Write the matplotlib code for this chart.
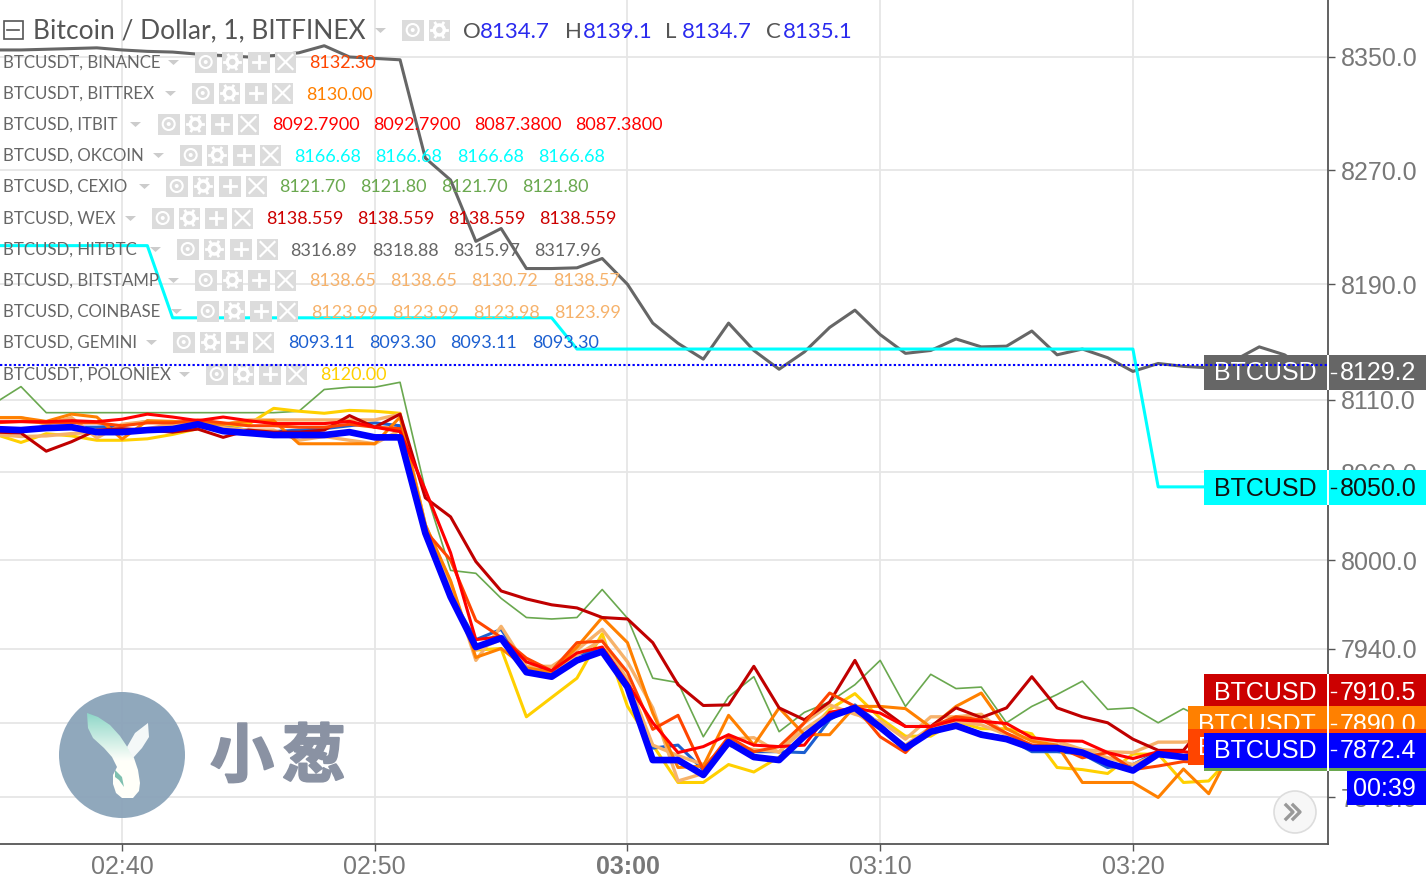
#!/usr/bin/env python3
# -*- coding: utf-8 -*-
import numpy as np
import matplotlib
matplotlib.use('Agg')
import matplotlib.pyplot as plt
import matplotlib.patheffects as pe
from matplotlib.patches import Rectangle, Circle, Polygon
from matplotlib.ticker import NullFormatter, NullLocator

#%% data, one value per minute from 02:35 to 03:27
minutes = np.arange(-5, 48)

hitbtc = [8355,8355,8355.5,8356,8356.5,8355,8354,8353.5,8352,8351,8350,8351,8353,8358,8350,8349,8348,
          8278.5,8263,8220,8229,8201,8201,8201.5,8208,8190,8163,8149,8138,8163,8144,8131,8143,8160,8172,
          8155,8142,8144,8152,8146.5,8147,8157.5,8141,8145,8139,8129.5,8135,8133,8132,8137,8146.5,8141,8129.2]
okcoin = [8217,8217,8217,8217,8217,8217,8217,
          8166.68,8166.68,8166.68,8166.68,8166.68,8166.68,8166.68,8166.68,8166.68,8166.68,8166.68,8166.68,8166.68,8166.68,8166.68,8166.68,
          8145,8145,8145,8145,8145,8145,8145,8145,8145,8145,8145,8145,8145,8145,8145,8145,8145,8145,8145,8145,8145,8145,8145,
          8050,8050,8050,8050,8050,8050,8050]
cexio = [8108,8119,8101,8101,8101,8101,8101,8101,8101,8101,8101,8101,8102,8117,8118.6,8118.6,8122,
         8048,7993,7991,7974,7961,7960,7961,7980,7960.5,7920,7917,7880.6,7907.5,7921,7884,7897,7904,7915.6,
         7932,7901,7922.6,7913,7914,7890,7901,7909,7918,7899,7900,7890,7899.5,7891,7901,7909,7901,7870]
poloniex = [8086,8080.5,8086.5,8085,8082,8082,8083,8086,8090,8091,8093,8104,8102,8100.6,8102.6,8102,8100.6,
            8024,7980,7939,7940,7894,7907,7920,7950,7901,7875,7850,7850,7862,7857,7867,7881,7899,7909.6,
            7893,7881,7881,7891,7886,7886,7882.6,7860,7858.6,7856,7869,7869,7850,7851,7869,7872,7872,7872]
gemini = [8088,8090,8090,8091,8091,8092,8095,8094,8094,8091,8089,8088,8089,8090,8092,8094,8092,
          8020,7976,7946,7953,7927,7925,7936,7939,7919,7873,7875,7858.6,7875,7870.6,7870.6,7870,7892,7902,
          7889,7872,7887,7889,7883,7880,7870.6,7870.6,7869,7860,7862,7870.6,7868,7868,7875,7882,7877,7873]
bitstamp = [8097.6,8097.6,8093,8097.6,8083.6,8093,8095,8093,8094,8093,8096,8096,8096,8096,8096,8096,8100,
            8024,7985,7932,7955,7928,7928,7939,7953,7931,7900,7851,7856,7879,7880,7870,7890,7902,7895.7,
            7891,7879,7894,7894,7895.7,7882,7879,7877.6,7872,7870.6,7870,7877,7877,7879,7880,7880,7880,7880]
coinbase = [8086,8084.6,8085,8086.6,8087.6,8087.6,8090,8093,8091.4,8090.7,8089,8089,8082,8084.6,8082,8079.6,8089,
            8021,7980,7939,7946,7927,7924,7935.6,7946,7919,7875,7868,7862,7875,7872,7870.6,7885.6,7897,7897,
            7885.6,7875,7887,7891,7888.6,7882,7875,7875,7872,7866.5,7862,7869,7868,7872,7873,7875,7875,7875]
bittrex = [8097.6,8097.6,8095,8100,8098,8082.8,8095.5,8095,8094,8093,8095,8095.5,8079.6,8079.6,8079.6,8079.6,8098,
           8024,7986,7934,7940,7927,7924,7941,7961,7944,7896.5,7860,7861,7895,7875,7900,7882,7882,7901,
           7901,7899.5,7887,7901,7910,7886,7877.6,7875,7850,7850,7850,7840,7859,7842.5,7875,7889.5,7889.5,7890]
wex = [8087.6,8087,8074.5,8081,8089,8090,8089,8087.6,8089.7,8084,8089,8087.6,8087.6,8089,8099,8091,8100,
       8042.5,8029.5,7999,7979,7973.6,7969.6,7967.5,7961,7960,7944,7915.6,7901.6,7902,7928,7900,7892,7904,7932,
       7900,7887.5,7887.5,7900,7893.5,7900,7921,7900,7894,7890,7879,7871.5,7871.5,7892,7905,7909,7910.5,7910.5]
binance = [8094,8095,8094,8094,8094,8092,8094,8094,8096,8094,8092,8092,8091,8091,8093,8091,8090,
           8020,8000,7959,7947.6,7933.5,7925,7944,7945,7924,7885.6,7895,7858.6,7880.6,7870.6,7874,7890,7910,7901,
           7880.6,7870,7887.5,7894,7892,7883,7875,7874,7866.5,7870,7858.6,7861,7864,7863,7872,7873,7874,7874]
itbit = [8094.8,8094.8,8094.8,8095.5,8094.8,8096.5,8100,8098,8095.5,8098,8095.5,8093.5,8093.5,8093.5,8095,8091,8088,
         8048,8005,7946,7948,7931,7925,7937,7941,7916.6,7890,7870,7874,7882,7875,7874,7875,7897,7900,
         7896.5,7887.5,7887.5,7892,7891,7889.5,7880,7878,7877.6,7870,7866,7870.6,7870.6,7869,7872,7873,7873,7873]
bitfinex = [8089.7,8089,8090.4,8091,8087.6,8087.6,8089,8089.7,8093,8088.3,8087,8085.6,8085.6,8085.6,8087.6,8084,8084,
            8018.4,7975,7941,7947,7924,7921,7932,7938,7914,7865,7865,7855,7877,7867,7865,7881,7894,7900,
            7887,7873,7884,7888,7882,7879,7873,7873,7870,7863,7858,7869,7867,7867,7875,7883,7877,7872.4]
last_close = 8134

y_ticks = [8350, 8270, 8190, 8110, 8060, 8000, 7940, 7890, 7840]
x_ticks = [0, 10, 20, 30, 40]
x_labels = ['02:40', '02:50', '03:00', '03:10', '03:20']

# name, caret x, icon x, value x, value texts, colour
legend_rows = [
    ('BTCUSDT, BINANCE', 173, 195, [309], ['8132.30'], '#ff4500'),
    ('BTCUSDT, BITTREX', 170, 192, [306], ['8130.00'], '#ff8000'),
    ('BTCUSD, ITBIT', 135, 158, [272, 373, 474, 575], ['8092.7900', '8092.7900', '8087.3800', '8087.3800'], '#ff0000'),
    ('BTCUSD, OKCOIN', 158, 180, [294, 375, 457, 538], ['8166.68', '8166.68', '8166.68', '8166.68'], '#00ffff'),
    ('BTCUSD, CEXIO', 144, 166, [279, 360, 441, 522], ['8121.70', '8121.80', '8121.70', '8121.80'], '#6aa84f'),
    ('BTCUSD, WEX', 130, 152, [266, 357, 448, 539], ['8138.559', '8138.559', '8138.559', '8138.559'], '#cc0000'),
    ('BTCUSD, HITBTC', 155, 177, [290, 372, 453, 534], ['8316.89', '8318.88', '8315.97', '8317.96'], '#666666'),
    ('BTCUSD, BITSTAMP', 173, 195, [309, 390, 471, 553], ['8138.65', '8138.65', '8130.72', '8138.57'], '#f6b26b'),
    ('BTCUSD, COINBASE', 176, 197, [311, 392, 473, 554], ['8123.99', '8123.99', '8123.98', '8123.99'], '#f6b26b'),
    ('BTCUSD, GEMINI', 151, 173, [288, 369, 450, 532], ['8093.11', '8093.30', '8093.11', '8093.30'], '#1c5fd0'),
    ('BTCUSDT, POLONIEX', 184, 206, [320], ['8120.00'], '#ffd000'),
]
legend_y = [62, 93, 124, 155, 186, 218, 249, 280, 311, 342, 374]

#%% price pane
W, H = 1426, 881
plt.rcParams['font.family'] = ['Liberation Sans', 'DejaVu Sans']
fig = plt.figure(figsize=(W / 100, H / 100), dpi=100)
ax = fig.add_axes([0, (H - 844) / H, 1328 / W, 844 / H])

ax.set_yscale('log')
ax.set_xlim(-4.83, 47.72)
ax.set_ylim(7809, 8390.6)
ax.grid(True, color='#e6e6e6', lw=1.3)
ax.set_axisbelow(True)

ax.plot(minutes, hitbtc, color='#666666', lw=2.2)
ax.plot(minutes, okcoin, color='#00ffff', lw=2.2)
ax.plot(minutes, cexio, color='#6aa84f', lw=1.2)
ax.plot(minutes, poloniex, color='#ffd000', lw=2.2)
ax.plot(minutes, gemini, color='#1c5fd0', lw=2.2)
ax.plot(minutes, bitstamp, color='#f6b26b', lw=2.4)
ax.plot(minutes, coinbase, color='#f6b26b', lw=2.4)
ax.plot(minutes, bittrex, color='#ff8000', lw=2.2)
ax.plot(minutes, wex, color='#c00000', lw=2.2)
ax.plot(minutes, binance, color='#ff4500', lw=2.2)
ax.plot(minutes, itbit, color='#ff0000', lw=2.2)
ax.plot(minutes, bitfinex, color='#0000ff', lw=4.8)

ax.yaxis.tick_right()
ax.yaxis.set_minor_locator(NullLocator())
ax.yaxis.set_minor_formatter(NullFormatter())
ax.set_yticks(y_ticks)
ax.set_yticklabels(['%.1f' % v for v in y_ticks])
ax.set_xticks(x_ticks)
ax.set_xticklabels(x_labels)
ax.get_xticklabels()[2].set_fontweight('bold')
ax.tick_params(axis='y', labelsize=18, labelcolor='#787878', color='#555555', length=5, width=1, pad=4)
ax.tick_params(axis='x', labelsize=18, labelcolor='#787878', color='#555555', length=5, width=1, pad=3)
ax.spines['top'].set_visible(False)
ax.spines['left'].set_visible(False)
ax.spines['right'].set_color('#555555')
ax.spines['bottom'].set_color('#555555')
ax.spines['right'].set_linewidth(1.3)
ax.spines['bottom'].set_linewidth(1.3)

#%% overlay in pixel coordinates for the legend, price tags and logo
ov = fig.add_axes([0, 0, 1, 1], zorder=5)
ov.patch.set_alpha(0)
ov.axis('off')

LEG_FONT = ['Lato', 'DejaVu Sans']


def icons(x0, yc, kinds=('eye', 'gear', 'plus', 'x')):
    for i, kind in enumerate(kinds):
        x = x0 + i * 26.6
        ov.add_patch(Rectangle((x, yc - 10.5), 21.5, 21.5, color='#dcdcdc', lw=0))
        cx, cy = x + 10.7, yc
        if kind == 'eye':
            ov.add_patch(Circle((cx, cy), 6, fc='none', ec='white', lw=1.5))
            ov.add_patch(Circle((cx, cy), 2, color='white', lw=0))
        elif kind == 'gear':
            ov.add_patch(Circle((cx, cy), 5, fc='none', ec='white', lw=2.5))
            for a in np.arange(0, 360, 60):
                dx, dy = np.cos(np.radians(a)), np.sin(np.radians(a))
                ov.plot([cx + 5 * dx, cx + 8 * dx], [cy + 5 * dy, cy + 8 * dy], color='white', lw=2)
        elif kind == 'plus':
            ov.plot([cx - 6, cx + 6], [cy, cy], color='white', lw=2)
            ov.plot([cx, cx], [cy - 6, cy + 6], color='white', lw=2)
        else:
            ov.plot([cx - 7, cx + 7], [cy - 7, cy + 7], color='white', lw=1.6)
            ov.plot([cx - 7, cx + 7], [cy + 7, cy - 7], color='white', lw=1.6)


def caret(x, yc):
    ov.add_patch(Polygon([(x - 5, yc - 2), (x + 6, yc - 2), (x + 0.5, yc + 3)], color='#cccccc', lw=0))


# title row
ov.add_patch(Rectangle((3.5, 20.5), 19, 18, fc='white', ec='#555555', lw=1.2))
ov.plot([7, 19], [29.5, 29.5], color='#555555', lw=1.2)
ov.text(33, 31, 'Bitcoin / Dollar, 1, BITFINEX', family=LEG_FONT, fontsize=19, color='#555555', va='center', ha='left')
caret(380, 30)
icons(402, 30, ('eye', 'gear'))
for x, s, c in [(463, 'O', '#555555'), (480, '8134.7', '#2a2aee'), (565, 'H', '#555555'), (583, '8139.1', '#2a2aee'),
                (665, 'L', '#555555'), (682, '8134.7', '#2a2aee'), (766, 'C', '#555555'), (783, '8135.1', '#2a2aee')]:
    ov.text(x, 31.5, s, family=LEG_FONT, fontsize=16, color=c, va='center', ha='left')

# study rows
for (name, cx, ix, vx, vals, col), y in zip(legend_rows, legend_y):
    ov.text(3, y + 1, name, family=LEG_FONT, fontsize=12.2, color='#666666', va='center', ha='left')
    caret(cx, y)
    icons(ix, y)
    for x, s in zip(vx, vals):
        ov.text(x, y + 1.5, s, family=LEG_FONT, fontsize=13, color=col, va='center', ha='left')

tag_z = [10]


def price_tag(x0, y0, y1, col, name, value, tcol='white', ty=None):
    z = tag_z[0]
    tag_z[0] += 1
    ov.add_patch(Rectangle((x0, y0), 1426 - x0, y1 - y0, color=col, lw=0, zorder=z))
    ty = (y0 + y1) / 2 if ty is None else ty
    ov.text(x0 + 10, ty + 1, name, fontsize=18, color=tcol, va='center', ha='left', zorder=z)
    if value:
        ov.text(1340, ty + 1, value, fontsize=18, color=tcol, va='center', ha='left', zorder=z)
        ov.plot([1331, 1336], [ty, ty], color=tcol, lw=1, zorder=z)


price_tag(1204, 355, 390, '#666666', 'BTCUSD', '8129.2')
price_tag(1204, 470, 505, '#00ffff', 'BTCUSD', '8050.0', tcol='#111111')
price_tag(1204, 674, 706, '#cc0000', 'BTCUSD', '7910.5', ty=692)
price_tag(1188, 706, 735, '#ff8000', 'BTCUSDT', '7890.0', ty=724)
price_tag(1188, 729, 765, '#ff4500', 'B', '', ty=747)
ov.add_patch(Rectangle((1204, 765), 222, 6, color='#6aa84f', lw=0, zorder=tag_z[0]))
tag_z[0] += 1
price_tag(1204, 733, 768, '#0000ff', 'BTCUSD', '7872.4', ty=750)
for y0, h in [(355, 35), (470, 35), (674, 97)]:
    ov.add_patch(Rectangle((1327, y0), 1.6, h, color='white', lw=0, zorder=40))
ov.add_patch(Rectangle((1347, 771), 79, 34, color='#0000ff', lw=0, zorder=41))
ov.text(1353, 789, '00:39', fontsize=18, color='white', va='center', ha='left', zorder=42)

# scroll button
ov.add_patch(Circle((1295, 812), 21, fc='#f7f7f7', ec='#dddddd', lw=1.2))
for dx in (-3, 4):
    ov.plot([1288 + dx + 1, 1295 + dx + 1, 1288 + dx + 1], [805, 812, 819], color='#999999', lw=2.4)

# logo
ov.add_patch(Circle((122, 755), 63, color='#8aa3b9', alpha=0.95, lw=0))
leaf = [(87, 713), (98, 717), (110, 725), (120, 736), (128, 748), (134, 758), (138, 770), (140, 783), (139, 791),
        (133, 798), (122, 798), (116, 793), (113, 784), (113, 775), (117, 767), (112, 757), (104, 748), (93, 738),
        (88, 728)]
grad = np.linspace(0, 1, 100).reshape(-1, 1)
img = np.ones((100, 1, 3))
img[:, 0, 0] = 0.55 + 0.45 * np.clip(grad[:, 0] * 1.8, 0, 1)
img[:, 0, 1] = 0.84 + 0.16 * np.clip(grad[:, 0] * 1.8, 0, 1)
img[:, 0, 2] = 0.78 + 0.20 * np.clip(grad[:, 0] * 1.8, 0, 1)
im = ov.imshow(img, extent=(85, 142, 800, 712), aspect='auto', zorder=3)
im.set_clip_path(Polygon(leaf, transform=ov.transData))
ov.add_patch(Polygon([(148, 723), (149, 737), (142, 748), (133, 758), (127, 747), (135, 733)], color='#f4f8f8', lw=0, zorder=3))
ov.add_patch(Polygon([(115, 770), (122, 777), (124, 787), (119, 780), (115, 777)], color='#7fc0b0', lw=0, zorder=4))
for x, s in [(242, '小'), (314, '葱')]:
    ov.text(x, 758, s, family=['Noto Sans CJK SC', 'DejaVu Sans'], fontsize=46, fontweight='black', color='#8a92a3',
            va='center', ha='center', zorder=3,
            path_effects=[pe.withStroke(linewidth=1.5, foreground='#8a92a3')])

ov.set_xlim(0, W)
ov.set_ylim(H, 0)

# last bar dotted line, above the price tags
ov.plot(ax.get_xlim(), [last_close, last_close], transform=ax.transData, color='#0000ff', lw=1.5, ls=(0, (1.1, 1.1)), zorder=30)

plt.savefig('out.png', dpi=100)
